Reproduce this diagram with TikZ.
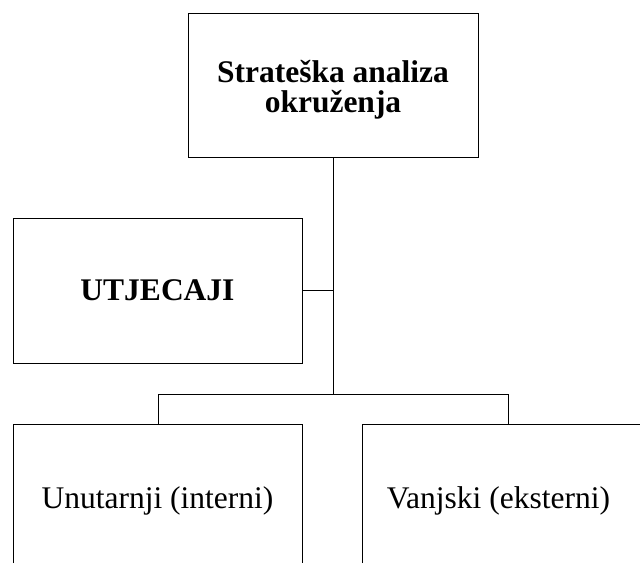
\documentclass[tikz,border=0pt]{standalone}
\usepackage{fontspec}
\setmainfont{Liberation Serif}
\begin{document}
\begin{tikzpicture}[x=1pt,y=-1pt,
  box/.style={draw=black,line width=1pt,rectangle,inner sep=0pt},
  conn/.style={draw=black,line width=1pt},
  bigb/.style={font=\fontsize{31.5}{30}\selectfont\bfseries,align=center,inner sep=0pt},
  reg/.style={font=\fontsize{31.5}{30}\selectfont}]
\useasboundingbox (0,0) rectangle (640,563);
% top box
\node[box,minimum width=290pt,minimum height=144pt] (top) at (333,85) {};
\node[bigb] (toptext) at (333,90) {Strateška analiza\\okruženja};
% UTJECAJI box
\node[box,bigb,minimum width=289pt,minimum height=145pt] (utj) at (157.5,290.5) {UTJECAJI};
% junctions
\coordinate (j) at (333,394);
\coordinate (bl) at (158,394);
\coordinate (br) at (508,394);
\coordinate (tl) at (158,424);
\coordinate (tr) at (508,424);
\draw[conn] (top.south) -- (j);
\draw[conn] (utj.east) -- (utj.east -| top.south);
\draw[conn] (bl) -- (br);
\draw[conn] (bl) -- (tl);
\draw[conn] (br) -- (tr);
% bottom open boxes
\draw[conn] (13,563) -- (13,424) -- (302,424) -- (302,563);
\draw[conn] (362,563) -- (362,424) -- (640,424);
\node[reg,anchor=base] (un) at (157.5,508) {Unutarnji (interni)};
\node[reg,anchor=base] (va) at (498.5,508) {Vanjski (eksterni)};
\end{tikzpicture}
\end{document}
